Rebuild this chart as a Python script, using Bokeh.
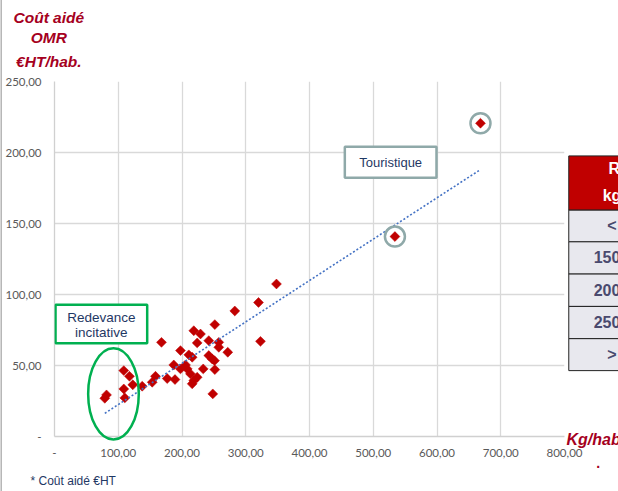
import numpy as np
from bokeh.plotting import figure
from bokeh.models import FixedTicker, Label, BoxAnnotation, Range1d
from bokeh.core.properties import value
from bokeh.embed import file_html
from bokeh.resources import INLINE

# ---- data ----
kg_hab = [78.9, 81.6, 108.7, 117.6, 122.8, 108.7, 110.3, 137.6, 153.3, 158.4,
          176.8, 189.0, 167.8, 187.1, 197.6, 210.7, 216.0, 205.5, 208.2, 197.6,
          213.3, 223.8, 218.5, 216.0, 218.5, 229.0, 223.8, 242.0, 257.7, 257.7,
          271.8, 242.0, 247.4, 251.0, 233.3, 251.5, 248.3, 251.5, 282.8, 320.0,
          348.2, 323.1, 534.0, 668.2]
cout = [26.9, 29.3, 46.4, 42.4, 36.4, 33.5, 27.2, 35.4, 38.2, 42.4,
        40.8, 40.1, 66.3, 50.4, 60.5, 57.5, 55.8, 50.4, 47.6, 47.6,
        44.1, 41.7, 39.4, 37.1, 74.5, 72.2, 65.9, 67.5, 66.3, 62.8,
        59.3, 57.0, 54.6, 53.4, 47.6, 47.1, 30.0, 78.8, 88.4, 94.4,
        107.4, 67.0, 140.8, 220.6]
touristique_idx = [42, 43]

x_ticks = [0, 100, 200, 300, 400, 500, 600, 700, 800]
x_tick_labels = ["-", "100,00", "200,00", "300,00", "400,00", "500,00", "600,00", "700,00", "800,00"]
y_ticks = [0, 50, 100, 150, 200, 250]
y_tick_labels = ["-", "50,00", "100,00", "150,00", "200,00", "250,00"]

y_title_lines = ["Coût aidé", "OMR", "€HT/hab."]
x_title = "Kg/hab"
footnote = "* Coût aidé €HT"
table_header = ["Ratio", "kg/hab"]
table_rows = ["< 150", "150 - 200", "200 - 250", "250 - 300", "> 300"]

RED = "#C00000"
TITLE_RED = "#A50021"
NAVY = "#1F3864"
GREEN = "#00B050"
TEAL_GRAY = "#8FA9A9"
FONT = value("Liberation Sans")

p = figure(width=618, height=491, output_backend="svg", toolbar_location=None,
           x_range=Range1d(0, 800), y_range=Range1d(0, 250),
           min_border_left=54, min_border_right=54, min_border_top=81, min_border_bottom=55)
p.outline_line_color = None
p.background_fill_color = "white"

for ax in (p.xaxis[0], p.yaxis[0]):
    ax.major_tick_line_color = None
    ax.minor_tick_line_color = None
    ax.major_tick_out = 0
    ax.major_tick_in = 0
    ax.minor_tick_out = 0
    ax.axis_line_color = "#D0D0D0"
    ax.axis_line_width = 1.3
    ax.major_label_text_font = "Lato"
    ax.major_label_text_font_size = "11.5px"
    ax.major_label_text_color = "#595959"

p.xaxis.ticker = FixedTicker(ticks=x_ticks)
p.yaxis.ticker = FixedTicker(ticks=y_ticks)
p.xaxis.major_label_overrides = {t: l for t, l in zip(x_ticks, x_tick_labels)}
p.yaxis.major_label_overrides = {t: l for t, l in zip(y_ticks, y_tick_labels)}
p.xaxis.major_label_standoff = 12
p.yaxis.major_label_standoff = 13

p.xgrid.grid_line_color = "#D9D9D9"
p.ygrid.grid_line_color = "#D9D9D9"
p.xgrid.grid_line_width = 1.3
p.ygrid.grid_line_width = 1.3

# points
p.scatter(kg_hab, cout, marker="square", angle=np.pi / 4, size=7,
          fill_color=RED, line_color=RED, line_width=0.5)

# trend line (linear regression)
a, b = np.polyfit(kg_hab, cout, 1)
xs = np.array([min(kg_hab), max(kg_hab)])
p.line(xs, a * xs + b, line_color="#4472C4", line_width=1.6, line_dash="2 2")

# highlighted touristique points
p.scatter([kg_hab[i] for i in touristique_idx], [cout[i] for i in touristique_idx],
          marker="circle", size=20, fill_color=None, line_color=TEAL_GRAY, line_width=2.5)

# Redevance incitative ellipse and box
p.ellipse(x=[92.5], y=[30.0], width=79.4, height=64.2, fill_color=None,
          line_color=GREEN, line_width=2.5, level="overlay")
p.add_layout(BoxAnnotation(left=1.6, right=145.4, top=92.8, bottom=65.6,
                           fill_color="white", fill_alpha=1, line_color=GREEN,
                           line_width=2.5, line_alpha=1))
p.add_layout(Label(x=73.5, y=83.5, text="Redevance", text_align="center", text_baseline="middle",
                   text_font="Liberation Sans", text_font_size="13.5px", text_color=NAVY))
p.add_layout(Label(x=73.5, y=72.9, text="incitative", text_align="center", text_baseline="middle",
                   text_font="Liberation Sans", text_font_size="13.5px", text_color=NAVY))

# Touristique box
p.add_layout(BoxAnnotation(left=455.4, right=599.2, top=204.1, bottom=182.3,
                           fill_color="white", fill_alpha=1, line_color=TEAL_GRAY,
                           line_width=2.5, line_alpha=1))
p.add_layout(Label(x=527.3, y=193.2, text="Touristique", text_align="center", text_baseline="middle",
                   text_font="Liberation Sans", text_font_size="13px", text_color=NAVY))

# ---- elements outside the plot area (overlay level: not clipped to the frame) ----
# thin slide border on the far left
p.quad(left=[-84.7], right=[-82.5], top=[310.0], bottom=[-40.0], fill_color="#B0B0B0",
       line_color=None, level="overlay")

p.text(x=[-8.9, -8.9, -8.9], y=[294.9, 280.8, 264.4], text=y_title_lines,
       text_align="center", text_baseline="middle", text_font=FONT,
       text_font_style="bold italic", text_font_size="15.5px", text_color=TITLE_RED,
       level="overlay")
p.text(x=[803.1], y=[-2.0], text=[x_title], text_align="left", text_baseline="middle",
       text_font=FONT, text_font_style="bold italic", text_font_size="16px",
       text_color=TITLE_RED, level="overlay")
p.text(x=[853.0], y=[-19.0], text=["."], text_align="center", text_baseline="middle",
       text_font=FONT, text_font_style="bold", text_font_size="14px",
       text_color=TITLE_RED, level="overlay")
p.text(x=[-37.6], y=[-31.6], text=[footnote], text_align="left", text_baseline="middle",
       text_font=FONT, text_font_size="12px", text_color=NAVY, level="overlay")

# partial table on the right
tx0, tx1 = 806.7, 1000.0
p.quad(left=[tx0], right=[tx1], top=[197.6], bottom=[159.4], fill_color=RED,
       line_color="#222222", line_width=1, level="overlay")
p.text(x=[900.4, 900.4], y=[188.5, 169.5], text=table_header, text_align="center",
       text_baseline="middle", text_font=FONT, text_font_style="bold",
       text_font_size="16px", text_color="white", level="overlay")
row_edges = [159.4, 137.1, 114.4, 91.6, 68.9, 46.4]
p.quad(left=[tx0] * 5, right=[tx1] * 5, top=row_edges[:-1], bottom=row_edges[1:],
       fill_color="#E8E8EE", line_color="#222222", line_width=1, level="overlay")
p.text(x=[898.8] * 5, y=[(row_edges[i] + row_edges[i + 1]) / 2 for i in range(5)],
       text=table_rows, text_align="center", text_baseline="middle", text_font=FONT,
       text_font_style="bold", text_font_size="16px", text_color="#4A4A6E", level="overlay")

open("out.html", "w").write(file_html(p, INLINE))
